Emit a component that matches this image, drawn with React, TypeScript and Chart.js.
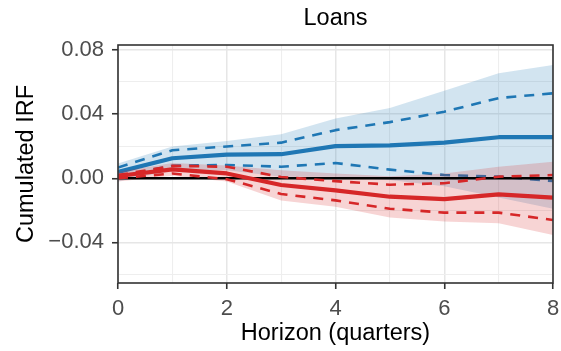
import { useEffect, useRef } from "react";
import { Chart, registerables } from "chart.js";

Chart.register(...registerables);

// Horizon in quarters
const horizon = [0, 1, 2, 3, 4, 5, 6, 7, 8];

// Blue response: point estimate, inner band (dashed) and outer band (shaded)
const blueMid = [0.004, 0.0125, 0.0148, 0.015, 0.02, 0.0205, 0.0222, 0.0256, 0.0256];
const blueInnerHi = [0.0067, 0.0175, 0.0198, 0.0222, 0.03, 0.035, 0.0415, 0.05, 0.053];
const blueInnerLo = [0.001, 0.0078, 0.0083, 0.0072, 0.0095, 0.0054, 0.002, 0.001, -0.0017];
const blueOuterHi = [0.0092, 0.0198, 0.0232, 0.0275, 0.0372, 0.0438, 0.0545, 0.0655, 0.0706];
const blueOuterLo = [-0.002, 0.005, 0.005, 0.001, 0.001, -0.001, -0.005, -0.012, -0.019];

// Red response: point estimate, inner band (dashed) and outer band (shaded)
const redMid = [0.0014, 0.0056, 0.003, -0.0042, -0.0076, -0.0115, -0.013, -0.01, -0.0121];
const redInnerHi = [0.002, 0.0077, 0.0072, 0.0008, -0.0018, -0.004, -0.0031, 0.001, 0.002];
const redInnerLo = [0.0, 0.003, -0.0006, -0.0098, -0.0138, -0.019, -0.0214, -0.0214, -0.026];
const redOuterHi = [0.004, 0.0095, 0.008, 0.005, 0.003, 0.0012, 0.003, 0.0072, 0.0103];
const redOuterLo = [-0.002, 0.0015, -0.002, -0.0138, -0.0177, -0.0245, -0.027, -0.028, -0.0353];

// Zero reference line
const zeroRef = [0, 0, 0, 0, 0, 0, 0, 0, 0];

// Axis ticks (major carry labels, the rest are minor grid lines)
const xTickValues = [0, 1, 2, 3, 4, 5, 6, 7, 8];
const xLabelValues = [0, 2, 4, 6, 8];
const yTickValues = [-0.06, -0.04, -0.02, 0, 0.02, 0.04, 0.06, 0.08];
const yLabelValues = [-0.04, 0, 0.04, 0.08];

const Y_MIN = -0.0653;
const Y_MAX = 0.0831;

const BLUE = "#1f77b4";
const RED = "#d62728";
const BLUE_FILL = "rgba(31,119,180,0.2)";
const RED_FILL = "rgba(214,39,40,0.2)";
const FONT = "'Liberation Sans', Arial, Helvetica, sans-serif";

const pts = (arr: number[]) => horizon.map((h, i) => ({ x: h, y: arr[i] }));
const isIn = (list: number[], v: number) => list.some((l) => Math.abs(l - v) < 1e-9);

const fmtY = (v: number) => {
  const s = Math.abs(v).toFixed(2);
  return v < -1e-9 ? "\u2212" + s : s;
};

const panelPlugin = {
  id: "panelDecor",
  afterDraw(chart: any) {
    const { ctx, chartArea } = chart;
    const { left, right, top, bottom } = chartArea;
    ctx.save();
    // panel border
    ctx.strokeStyle = "#333333";
    ctx.lineWidth = 1.6;
    ctx.strokeRect(left, top, right - left, bottom - top);
    // titles
    ctx.fillStyle = "#000000";
    ctx.font = `23.5px ${FONT}`;
    ctx.textAlign = "center";
    ctx.textBaseline = "alphabetic";
    const cx = (left + right) / 2;
    ctx.fillText("Loans", cx, 25);
    ctx.fillText("Horizon (quarters)", cx, 340);
    ctx.translate(33, (top + bottom) / 2);
    ctx.rotate(-Math.PI / 2);
    ctx.fillText("Cumulated IRF", 0, 0);
    ctx.restore();
  },
};

const ribbon = (hi: number[], lo: number[], fill: string, order: number) => [
  {
    data: pts(hi),
    borderColor: "transparent",
    borderWidth: 0,
    backgroundColor: fill,
    fill: "+1",
    pointRadius: 0,
    order,
  },
  {
    data: pts(lo),
    borderColor: "transparent",
    borderWidth: 0,
    backgroundColor: fill,
    fill: false,
    pointRadius: 0,
    order,
  },
];

const line = (arr: number[], color: string, width: number, dash: number[], order: number) => ({
  data: pts(arr),
  borderColor: color,
  borderWidth: width,
  borderDash: dash,
  borderCapStyle: "butt",
  borderJoinStyle: "round",
  fill: false,
  pointRadius: 0,
  tension: 0,
  order,
});

const DASH = [10, 8];

export default function App() {
  const ref = useRef<HTMLCanvasElement>(null);

  useEffect(() => {
    if (!ref.current) return;
    const chart = new Chart(ref.current, {
      type: "line",
      data: {
        datasets: [
          ...ribbon(blueOuterHi, blueOuterLo, BLUE_FILL, 12),
          line(blueInnerHi, BLUE, 2.6, DASH, 10),
          line(blueInnerLo, BLUE, 2.6, DASH, 10),
          line(blueMid, BLUE, 4.2, [], 9),
          ...ribbon(redOuterHi, redOuterLo, RED_FILL, 8),
          line(zeroRef, "#000000", 2.5, [], 7.5),
          line(redInnerHi, RED, 2.6, DASH, 7),
          line(redInnerLo, RED, 2.6, DASH, 7),
          line(redMid, RED, 4.2, [], 6),
        ],
      } as any,
      options: {
        animation: false,
        responsive: false,
        devicePixelRatio: 1,
        layout: { padding: { top: 45, right: 8, left: 0, bottom: 0 } },
        plugins: {
          legend: { display: false },
          title: { display: false },
          tooltip: { enabled: false },
        },
        scales: {
          x: {
            type: "linear",
            min: 0,
            max: 8,
            afterBuildTicks: (s: any) => {
              s.ticks = xTickValues.map((v) => ({ value: v }));
            },
            afterFit: (s: any) => {
              s.height = 68;
              s.paddingLeft = 0;
              s.paddingRight = 0;
            },
            border: { display: false },
            grid: {
              color: (c: any) => (isIn(xLabelValues, c.tick?.value) ? "#e6e6e6" : "#eeeeee"),
              lineWidth: (c: any) => (isIn(xLabelValues, c.tick?.value) ? 1.5 : 1.1),
              tickLength: 6,
              tickWidth: 1.6,
              tickColor: (c: any) => (isIn(xLabelValues, c.tick?.value) ? "#333333" : "rgba(0,0,0,0)"),
            },
            ticks: {
              autoSkip: false,
              maxRotation: 0,
              padding: 7,
              color: "#4d4d4d",
              font: { family: FONT, size: 22 },
              callback: (v: any) => (isIn(xLabelValues, Number(v)) ? String(v) : ""),
            },
          },
          y: {
            type: "linear",
            min: Y_MIN,
            max: Y_MAX,
            afterBuildTicks: (s: any) => {
              s.ticks = yTickValues.map((v) => ({ value: v }));
            },
            afterFit: (s: any) => {
              s.width = 118;
              s.paddingTop = 0;
              s.paddingBottom = 0;
            },
            border: { display: false },
            grid: {
              color: (c: any) => (isIn(yLabelValues, c.tick?.value) ? "#e6e6e6" : "#eeeeee"),
              lineWidth: (c: any) => (isIn(yLabelValues, c.tick?.value) ? 1.5 : 1.1),
              tickLength: 6,
              tickWidth: 1.6,
              tickColor: (c: any) => (isIn(yLabelValues, c.tick?.value) ? "#333333" : "rgba(0,0,0,0)"),
            },
            ticks: {
              autoSkip: false,
              padding: 8,
              color: "#4d4d4d",
              font: { family: FONT, size: 22 },
              callback: (v: any) => (isIn(yLabelValues, Number(v)) ? fmtY(Number(v)) : ""),
            },
          },
        },
      } as any,
      plugins: [panelPlugin],
    });
    return () => chart.destroy();
  }, []);

  return (
    <div style={{ position: "absolute", left: 0, top: 0, width: 561, height: 351, background: "#ffffff" }}>
      <canvas ref={ref} width={561} height={351} style={{ display: "block" }} />
    </div>
  );
}
